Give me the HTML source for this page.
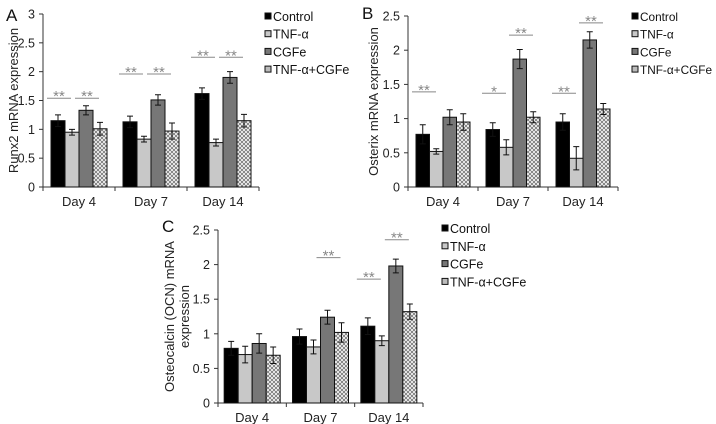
<!DOCTYPE html>
<html><head><meta charset="utf-8"><style>
html,body{margin:0;padding:0;background:#fff;}
svg{display:block;font-family:"Liberation Sans",sans-serif;}
</style></head><body>
<svg id="fig" width="716" height="424" viewBox="0 0 716 424" xmlns="http://www.w3.org/2000/svg">
<defs>
<pattern id="hatch" patternUnits="userSpaceOnUse" width="4" height="4">
<rect width="4" height="4" fill="#fff"/>
<path d="M0,0 L4,4 M4,0 L0,4" stroke="#777" stroke-width="0.9"/>
</pattern>
</defs>
</svg>
<script>
const categories = ["Day 4","Day 7","Day 14"];
const seriesNames = ["Control","TNF-α","CGFe","TNF-α+CGFe"];
const fills = ["#000","#c8c8c8","#777","url(#hatch)"];

const aValues = [[1.15,1.13,1.62],[0.95,0.83,0.77],[1.33,1.51,1.90],[1.01,0.97,1.15]];
const aErrors = [[0.10,0.10,0.10],[0.05,0.05,0.06],[0.08,0.09,0.10],[0.11,0.14,0.11]];
const aTicks = [0,0.5,1,1.5,2,2.5,3];
const aTickLabels = ["0","0.5","1","1.5","2","2.5","3"];
const aSig = [[0,0,1.54,"**"],[0,1,1.54,"**"],[1,0,1.96,"**"],[1,1,1.96,"**"],[2,0,2.25,"**"],[2,1,2.25,"**"]];

const bValues = [[0.77,0.84,0.95],[0.52,0.58,0.42],[1.02,1.87,2.15],[0.95,1.02,1.14]];
const bErrors = [[0.14,0.10,0.12],[0.04,0.11,0.17],[0.11,0.14,0.12],[0.12,0.08,0.08]];
const bTicks = [0,0.5,1,1.5,2,2.5];
const bTickLabels = ["0","0.5","1","1.5","2","2.5"];
const bSig = [[0,0,1.39,"**"],[1,0,1.37,"*"],[1,1,2.22,"**"],[2,0,1.37,"**"],[2,1,2.40,"**"]];

const cValues = [[0.79,0.96,1.11],[0.70,0.81,0.90],[0.86,1.24,1.98],[0.69,1.02,1.32]];
const cErrors = [[0.10,0.11,0.12],[0.12,0.10,0.07],[0.14,0.10,0.10],[0.12,0.14,0.11]];
const cTicks = [0,0.5,1,1.5,2,2.5];
const cTickLabels = ["0","0.5","1","1.5","2","2.5"];
const cSig = [[1,1,2.10,"**"],[2,0,1.79,"**"],[2,1,2.36,"**"]];

const svg = document.getElementById('fig');
const NS = "http://www.w3.org/2000/svg";
function mk(tag, attrs, parent){const e=document.createElementNS(NS,tag);for(const k in attrs)e.setAttribute(k,attrs[k]);(parent||svg).appendChild(e);return e;}

function panel(p){
  const g = mk('g',{});
  
  
  const yScale = v => p.y0 - (v/p.yMax)*(p.y0-p.yTop);
  const gw = (p.x1-p.x0)/categories.length;
  const bw = p.bw;
  const barX = (ci,si) => p.x0 + gw*ci + (gw-4*bw)/2 + si*bw;
  const ax = mk('line',{x1:p.x0,y1:p.yTop,x2:p.x0,y2:p.y0,stroke:"#333","stroke-width":1},g);
  
  
  const xx = mk('line',{x1:p.x0,y1:p.y0,x2:p.x1,y2:p.y0,stroke:"#333","stroke-width":1},g);
  
  
  p.ticks.forEach((t,i)=>{
    const y=yScale(t);
    mk('line',{x1:p.x0-4,y1:y,x2:p.x0,y2:y,stroke:"#333"},g);
    const tx=mk('text',{x:p.x0-8,y:y+4.5,"text-anchor":"end","font-size":12.5,fill:"#222"},g);
    tx.textContent=p.tickLabels[i];
    
    
  });
  for(let i=0;i<=categories.length;i++){
    const x=p.x0+gw*i;
    mk('line',{x1:x,y1:p.y0,x2:x,y2:p.y0+4,stroke:"#333"},g);
  }
  categories.forEach((c,ci)=>{
    const t=mk('text',{x:p.x0+gw*(ci+0.5),y:p.y0+19,"text-anchor":"middle","font-size":13,fill:"#222"},g);
    t.textContent=c;
    
    
  });
  p.values.forEach((ser,si)=>{
    ser.forEach((v,ci)=>{
      const x=barX(ci,si), y=yScale(v);
      const r=mk('rect',{x:x,y:y,width:bw,height:p.y0-y,fill:fills[si],stroke:"#111","stroke-width":1},g);
      
      
      const e=p.errors[si][ci], cx=x+bw/2, yt=yScale(v+e), yb=yScale(v-e);
      const eb=mk('path',{d:`M${cx-3},${yt}H${cx+3}M${cx},${yt}V${yb}M${cx-3},${yb}H${cx+3}`,stroke:"#111","stroke-width":1,fill:"none"},g);
      
      
    });
  });
  p.sig.forEach(s=>{
    const ci=s[0], pair=s[1], y=yScale(s[2]);
    const xa=barX(ci,pair*2)-4, xb=xa+24;
    const l=mk('line',{x1:xa,y1:y,x2:xb,y2:y,stroke:"#888","stroke-width":1},g);
    
    
    const t=mk('text',{x:(xa+xb)/2,y:y+3,"text-anchor":"middle","font-size":15,fill:"#888"},g);
    t.textContent=s[3];
    
    
  });
  p.yTitle.forEach((line,i)=>{
    const tx=p.yTitleX[i], ty=(p.yTop+p.y0)/2;
    const t=mk('text',{x:tx,y:ty,"text-anchor":"middle","font-size":13,fill:"#222",transform:`rotate(-90 ${tx} ${ty})`},g);
    t.textContent=line;
    
    
  });
  const L=mk('text',{x:p.letter[0],y:p.letter[1],"font-size":17,fill:"#111"},g);
  L.textContent=p.id;
  
  
  seriesNames.forEach((n,si)=>{
    const y=p.legend[1]+si*p.legendGap;
    const lg=mk('g',{},g);
    
    
    mk('rect',{x:p.legend[0],y:y-4,width:6,height:6,fill:fills[si]==="url(#hatch)"?"#bbb":fills[si],stroke:"#111","stroke-width":1},lg);
    const t=mk('text',{x:p.legend[0]+8,y:y+4,"font-size":p.legendFont,fill:"#111"},lg);
    t.textContent=n;
  });
}

panel({id:"A",x0:43,x1:259,y0:187,yTop:14,yMax:3,bw:14,values:aValues,errors:aErrors,ticks:aTicks,tickLabels:aTickLabels,sig:aSig,
  yTitle:["Runx2 mRNA expression"],yTitleX:[18],letter:[6,21],legend:[265,17],legendGap:17.7,legendFont:12.5});
panel({id:"B",x0:408,x1:618,y0:187,yTop:16,yMax:2.5,bw:13.5,values:bValues,errors:bErrors,ticks:bTicks,tickLabels:bTickLabels,sig:bSig,
  yTitle:["Osterix mRNA expression"],yTitleX:[378],letter:[362,19],legend:[632,17],legendGap:17.7,legendFont:11.8});
panel({id:"C",x0:218,x1:423,y0:403,yTop:230,yMax:2.5,bw:14,values:cValues,errors:cErrors,ticks:cTicks,tickLabels:cTickLabels,sig:cSig,
  yTitle:["Osteocalcin (OCN) mRNA","expression"],yTitleX:[174,189],letter:[162,232],legend:[442,229],legendGap:17.8,legendFont:12.5});
</script>
</body></html>
